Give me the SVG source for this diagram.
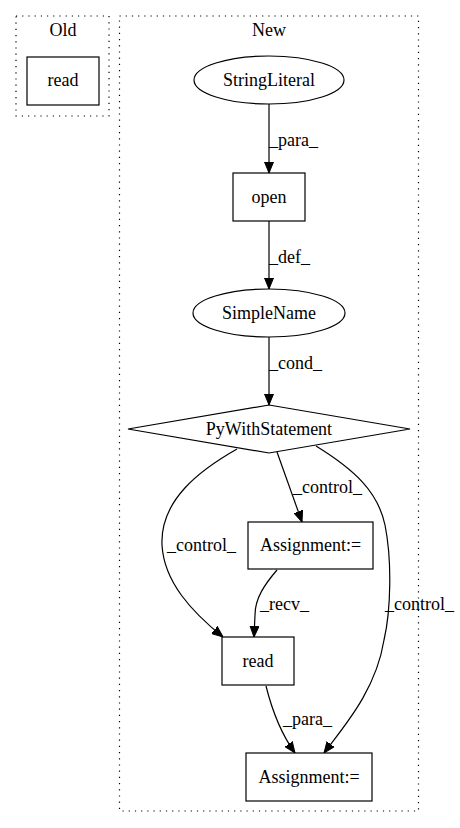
<svg xmlns="http://www.w3.org/2000/svg" width="460" height="828" viewBox="0 0 460 828" font-family="'Liberation Serif', 'DejaVu Serif', 'Times New Roman', serif">
<style>
text{font-family:'Liberation Serif','DejaVu Serif','Times New Roman',serif;font-size:18px;fill:#000}
.c{text-anchor:middle}
.cl{fill:none;stroke:#000;stroke-width:1.2;stroke-dasharray:1.2,5}
.n{fill:#fff;stroke:#000;stroke-width:1.2}
.e{fill:none;stroke:#000;stroke-width:1.2}
</style>
<defs>
<marker id="a" markerWidth="11" markerHeight="10" refX="11" refY="5" orient="auto" markerUnits="userSpaceOnUse">
<polygon points="0,0.5 11,5 0,9.5" fill="#000" stroke="#000"/>
</marker>
</defs>
<rect width="460" height="828" fill="#fff"/>
<g id="cluster_old">
<rect class="cl" x="16" y="16" width="93" height="100"/>
<text class="c" x="63" y="36">Old</text>
</g>
<g id="cluster_new">
<rect class="cl" x="119.5" y="16" width="299" height="795"/>
<text class="c" x="269" y="36">New</text>
</g>
<g id="edges">
<path class="e" d="M269,104 L269,173" marker-end="url(#a)"/>
<text x="269" y="146">_para_</text>
<path class="e" d="M269,221 L269,289" marker-end="url(#a)"/>
<text x="269" y="263">_def_</text>
<path class="e" d="M269,337 L269,405" marker-end="url(#a)"/>
<text x="269" y="369">_cond_</text>
<path class="e" d="M277,452 L302,522" marker-end="url(#a)"/>
<text x="293" y="493">_control_</text>
<path class="e" d="M237,449 C200,470 160,500 162,545 C164,582 192,612 223,637" marker-end="url(#a)"/>
<text x="167" y="551">_control_</text>
<path class="e" d="M277,570 C265,584 255,598 255,615 L254,637" marker-end="url(#a)"/>
<text x="260" y="610">_recv_</text>
<path class="e" d="M316,446 C355,470 378,492 385,525 C392,560 391,610 384,640 C376,690 345,725 324,753" marker-end="url(#a)"/>
<text x="385" y="610">_control_</text>
<path class="e" d="M266,686 C272,710 282,735 295,753" marker-end="url(#a)"/>
<text x="283" y="725">_para_</text>
</g>
<g id="old_read">
<rect class="n" x="27" y="57" width="72" height="48"/>
<text class="c" x="63" y="86">read</text>
</g>
<g id="StringLiteral">
<ellipse class="n" cx="269" cy="80" rx="75" ry="24"/>
<text class="c" x="269" y="86">StringLiteral</text>
</g>
<g id="open">
<rect class="n" x="233" y="173" width="72" height="48"/>
<text class="c" x="269" y="203">open</text>
</g>
<g id="SimpleName">
<ellipse class="n" cx="269" cy="313" rx="76" ry="24"/>
<text class="c" x="269" y="319">SimpleName</text>
</g>
<g id="PyWithStatement">
<polygon class="n" points="269,405 410,429 269,453 128,429"/>
<text class="c" x="269" y="435">PyWithStatement</text>
</g>
<g id="Assignment1">
<rect class="n" x="248" y="522" width="125" height="47"/>
<text class="c" x="310.5" y="551">Assignment:=</text>
</g>
<g id="read">
<rect class="n" x="222" y="637" width="72" height="48"/>
<text class="c" x="258" y="667">read</text>
</g>
<g id="Assignment2">
<rect class="n" x="246" y="753" width="126" height="48"/>
<text class="c" x="309" y="783">Assignment:=</text>
</g>
</svg>
